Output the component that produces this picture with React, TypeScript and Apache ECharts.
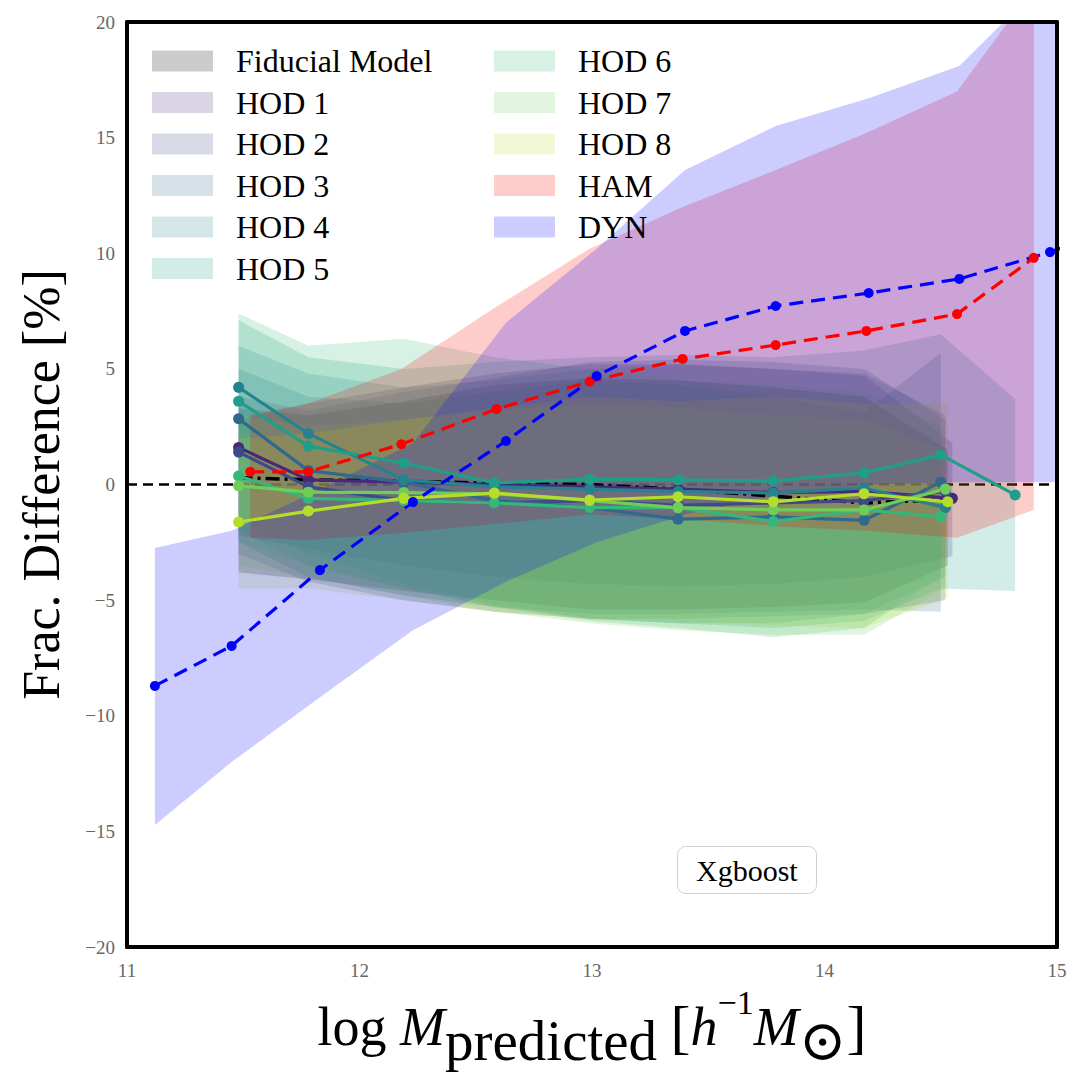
import React, { useEffect, useRef } from "react";
import * as echarts from "echarts";

const FONT = '"Liberation Serif", "DejaVu Serif", serif';

// ---------- axis ranges & ticks ----------
const X_MIN = 11;
const X_MAX = 15;
const X_STEP = 1;
const Y_MIN = -20;
const Y_MAX = 20;
const Y_STEP = 5;
const zeroLevel = 0;

// ---------- Fiducial model ----------
const fidX = [11.48, 11.78, 12.19, 12.58, 12.99, 13.37, 13.78, 14.17, 14.53];
const fidMid = [0.3, 0.2, 0.15, 0.05, 0.0, -0.2, -0.5, -0.8, -0.65];
const fidLo = [-3.8, -4.1, -4.6, -5.0, -5.4, -5.4, -5.3, -5.1, -3.5];
const fidHi = [3.3, 3.0, 3.6, 4.3, 4.6, 4.5, 4.2, 3.8, 1.5];

// ---------- HOD models ----------
const hodNames = ["HOD 1", "HOD 2", "HOD 3", "HOD 4", "HOD 5", "HOD 6", "HOD 7", "HOD 8"];
const hodColors = ["#482878", "#3e4989", "#31688e", "#26828e", "#1f9e89", "#35b779", "#6ece58", "#b5de2b"];
const hodX = [
  [11.48, 11.78, 12.19, 12.58, 12.99, 13.37, 13.78, 14.17, 14.55],
  [11.48, 11.78, 12.19, 12.58, 12.99, 13.37, 13.78, 14.17, 14.52],
  [11.48, 11.78, 12.19, 12.58, 12.99, 13.37, 13.78, 14.17, 14.5],
  [11.48, 11.78, 12.19, 12.58, 12.99, 13.37, 13.78, 14.17, 14.52],
  [11.48, 11.78, 12.19, 12.58, 12.99, 13.37, 13.78, 14.17, 14.5, 14.82],
  [11.48, 11.78, 12.19, 12.58, 12.99, 13.37, 13.78, 14.17, 14.5],
  [11.48, 11.78, 12.19, 12.58, 12.99, 13.37, 13.78, 14.17, 14.52],
  [11.48, 11.78, 12.19, 12.58, 12.99, 13.37, 13.78, 14.17, 14.53],
];
const hodMid = [
  [1.6, 0.2, 0.1, 0.0, -0.1, -0.2, -0.35, -0.3, -0.6],
  [1.4, -0.1, -0.7, -0.8, -0.7, -0.9, -0.8, -0.7, -0.3],
  [2.84, 0.6, 0.1, -0.7, -1.0, -1.5, -1.4, -1.55, 0.1],
  [4.2, 2.2, 0.2, -0.1, -0.2, -0.3, -0.37, -0.15, -1.0],
  [3.6, 1.66, 0.93, 0.07, 0.23, 0.2, 0.15, 0.5, 1.28, -0.45],
  [0.37, -0.6, -0.7, -0.8, -1.0, -1.0, -1.6, -1.1, -1.4],
  [-0.05, -0.33, -0.35, -0.4, -0.7, -1.0, -1.1, -1.1, -0.2],
  [-1.62, -1.15, -0.6, -0.37, -0.67, -0.53, -0.75, -0.4, -0.75],
];
const hodLo = [
  [-2.2, -2.8, -3.5, -4.0, -4.3, -4.4, -4.3, -4.0, -3.1],
  [-3.0, -4.2, -5.0, -5.5, -5.8, -5.8, -5.7, -5.6, -5.0],
  [-2.5, -4.0, -4.8, -5.3, -5.6, -5.6, -5.5, -5.4, -5.5],
  [-2.0, -3.5, -4.5, -5.3, -5.8, -6.0, -6.0, -5.6, -4.0],
  [-1.5, -3.0, -4.3, -5.2, -5.8, -6.0, -6.2, -5.9, -4.5, -4.6],
  [-2.5, -3.5, -4.5, -5.3, -5.9, -6.2, -6.6, -6.2, -4.0],
  [-3.5, -4.0, -4.8, -5.5, -6.0, -6.3, -6.5, -6.5, -4.5],
  [-4.5, -4.5, -5.0, -5.5, -5.8, -5.9, -6.1, -6.2, -4.9],
];
const hodHi = [
  [2.8, 3.5, 4.2, 4.8, 5.2, 5.2, 5.0, 4.7, 1.8],
  [3.8, 3.2, 4.0, 4.6, 5.3, 5.4, 5.3, 5.0, 2.8],
  [5.0, 3.8, 3.5, 4.0, 4.5, 4.3, 3.8, 3.1, 5.7],
  [6.0, 4.8, 4.2, 4.5, 5.0, 5.2, 5.0, 4.8, 3.0],
  [7.1, 5.5, 5.0, 5.3, 5.5, 5.6, 5.5, 5.8, 6.5, 3.7],
  [7.4, 6.0, 6.3, 5.5, 5.0, 4.5, 4.3, 4.0, 2.5],
  [3.0, 2.5, 2.8, 3.2, 3.5, 3.3, 3.0, 2.8, 1.5],
  [2.0, 2.2, 2.8, 3.3, 3.8, 3.6, 3.8, 3.5, 3.5],
];

// ---------- HAM ----------
const hamX = [11.53, 11.78, 12.18, 12.59, 12.99, 13.39, 13.79, 14.18, 14.57, 14.9];
const hamMid = [0.55, 0.55, 1.74, 3.26, 4.45, 5.43, 6.03, 6.64, 7.37, 9.8];
const hamLo = [-2.3, -2.4, -2.1, -1.7, -1.3, -1.5, -1.8, -2.0, -2.3, -1.1];
const hamHi = [3.0, 3.5, 5.0, 7.7, 10.2, 12.0, 13.6, 15.2, 17.0, 21.5];

// ---------- DYN ----------
const dynX = [11.12, 11.45, 11.83, 12.23, 12.63, 13.02, 13.4, 13.79, 14.19, 14.58, 14.97, 15.37];
const dynMid = [-8.71, -6.98, -3.7, -0.76, 1.88, 4.69, 6.64, 7.72, 8.28, 8.89, 10.05, 11.5];
const dynLo = [-14.72, -12.0, -9.2, -6.3, -4.2, -2.5, -1.3, -0.5, 0.0, 0.1, 0.1, 0.5];
const dynHi = [-2.75, -2.0, -0.2, 1.8, 7.0, 10.2, 13.6, 15.5, 16.7, 18.1, 22.0, 25.0];

function rgba(hex: string, a: number) {
  const r = parseInt(hex.slice(1, 3), 16);
  const g = parseInt(hex.slice(3, 5), 16);
  const b = parseInt(hex.slice(5, 7), 16);
  return `rgba(${r},${g},${b},${a})`;
}

function bandSeries(name: string, xs: number[], lo: number[], hi: number[], fill: string) {
  const data = xs.map((x, i) => [x, lo[i], hi[i]]);
  return {
    type: "custom",
    name,
    data,
    clip: true,
    z: 2,
    silent: true,
    encode: { x: 0, y: [1, 2] },
    itemStyle: { color: fill },
    renderItem: (params: any, api: any) => {
      if (params.dataIndex !== 0) return null;
      const top = data.map((d) => api.coord([d[0], d[2]]));
      const bot = data.map((d) => api.coord([d[0], d[1]])).reverse();
      return {
        type: "polygon",
        shape: { points: top.concat(bot) },
        style: { fill, stroke: "none" },
      };
    },
  };
}

function lineSeries(name: string, xs: number[], ys: number[], color: string, opts: any = {}) {
  return {
    type: "line",
    name,
    data: xs.map((x, i) => [x, ys[i]]),
    z: 3,
    silent: true,
    symbol: opts.symbol ?? "circle",
    symbolSize: opts.symbolSize ?? 11,
    showSymbol: opts.symbol !== "none",
    itemStyle: { color },
    lineStyle: { color, width: opts.width ?? 3.2, type: opts.type ?? "solid" },
    clip: true,
  };
}

export default function App() {
  const ref = useRef<HTMLDivElement>(null);

  useEffect(() => {
    if (!ref.current) return;
    const chart = echarts.init(ref.current, undefined, { renderer: "svg" });

    const fidFill = "rgba(0,0,0,0.2)";
    const hamFill = rgba("#ff0000", 0.2);
    const dynFill = rgba("#0000ff", 0.2);

    const bands: any[] = [
      bandSeries("Fiducial Model", fidX, fidLo, fidHi, fidFill),
      ...hodNames.map((n, k) => bandSeries(n, hodX[k], hodLo[k], hodHi[k], rgba(hodColors[k], 0.2))),
      bandSeries("HAM", hamX, hamLo, hamHi, hamFill),
      bandSeries("DYN", dynX, dynLo, dynHi, dynFill),
    ];

    const lines: any[] = [
      lineSeries("Fiducial line", fidX, fidMid, "#000000", { symbol: "none", type: [14, 5, 3, 5], width: 3.5 }),
      ...hodNames.map((n, k) => lineSeries(n + " line", hodX[k], hodMid[k], hodColors[k])),
      lineSeries("HAM line", hamX, hamMid, "#ff0000", { type: [14, 8], width: 3.2, symbolSize: 10 }),
      lineSeries("DYN line", dynX, dynMid, "#0000ff", { type: [14, 8], width: 3.2, symbolSize: 10 }),
    ];

    const zeroSeries = {
      type: "line",
      name: "zero",
      data: [
        [X_MIN, zeroLevel],
        [X_MAX, zeroLevel],
      ],
      z: 1,
      silent: true,
      symbol: "none",
      lineStyle: { color: "#000", width: 2.5, type: [10, 6] },
    };

    const legendNames = ["Fiducial Model", ...hodNames, "HAM", "DYN"];
    const legendColors = [fidFill, ...hodColors.map((c) => rgba(c, 0.2)), hamFill, dynFill];
    const legendItems = legendNames.map((n, i) => ({
      name: n,
      icon: "rect",
      itemStyle: { color: legendColors[i], borderWidth: 0 },
    }));
    const legendCommon = {
      orient: "vertical",
      top: 40,
      itemWidth: 61,
      itemHeight: 21,
      itemGap: 9.5,
      selectedMode: false,
      textStyle: {
        fontFamily: FONT,
        fontSize: 32,
        color: "#000",
        lineHeight: 30.5,
        padding: [0, 0, 0, 18],
      },
    };

    const axisLine = { show: true, onZero: false, lineStyle: { color: "#000", width: 4 } };

    chart.setOption({
      animation: false,
      backgroundColor: "#ffffff",
      grid: { left: 127, right: 28, top: 22, bottom: 129, containLabel: false },
      title: {
        text: "Xgboost",
        left: 677,
        top: 846,
        padding: [9, 19],
        borderColor: "#d0d0d0",
        borderWidth: 1,
        borderRadius: 8,
        backgroundColor: "rgba(255,255,255,0.8)",
        textStyle: { fontFamily: FONT, fontSize: 30, fontWeight: "normal", color: "#000" },
      },
      legend: [
        { ...legendCommon, left: 147, data: legendItems.slice(0, 6) },
        { ...legendCommon, left: 489, data: legendItems.slice(6) },
      ],
      xAxis: [
        {
          type: "value",
          min: X_MIN,
          max: X_MAX,
          interval: X_STEP,
          position: "bottom",
          z: 10,
          axisLine,
          axisTick: { show: false },
          splitLine: { show: false },
          axisLabel: { color: "#666", fontFamily: FONT, fontSize: 19, margin: 14 },
          name: "{n|log }{i|M}{s|predicted}{n| }{b|[}{i|h}{p|−1}{i|M}{s|⊙}{b|]}",
          nameLocation: "middle",
          nameGap: 38,
          nameTextStyle: {
            rich: {
              n: { fontFamily: FONT, fontSize: 54, color: "#000", lineHeight: 84, verticalAlign: "middle" },
              i: { fontFamily: FONT, fontSize: 54, fontStyle: "italic", color: "#000", lineHeight: 84, verticalAlign: "middle" },
              b: { fontFamily: FONT, fontSize: 60, color: "#000", lineHeight: 84, verticalAlign: "middle" },
              s: { fontFamily: FONT, fontSize: 57, color: "#000", lineHeight: 54, verticalAlign: "bottom" },
              p: { fontFamily: FONT, fontSize: 34, color: "#000", lineHeight: 56, verticalAlign: "top" },
            },
          },
        },
        {
          type: "value",
          min: X_MIN,
          max: X_MAX,
          position: "top",
          z: 10,
          axisLine,
          axisTick: { show: false },
          axisLabel: { show: false },
          splitLine: { show: false },
        },
      ],
      yAxis: [
        {
          type: "value",
          min: Y_MIN,
          max: Y_MAX,
          interval: Y_STEP,
          position: "left",
          z: 10,
          axisLine,
          axisTick: { show: false },
          splitLine: { show: false },
          axisLabel: {
            color: "#666",
            fontFamily: FONT,
            fontSize: 19,
            margin: 12,
            formatter: (v: number) => (v < 0 ? "\u2212" + Math.abs(v) : String(v)),
          },
          name: "Frac. Difference [%]",
          nameLocation: "middle",
          nameRotate: 90,
          nameGap: 60,
          nameTextStyle: { fontFamily: FONT, fontSize: 52, color: "#000" },
        },
        {
          type: "value",
          min: Y_MIN,
          max: Y_MAX,
          position: "right",
          z: 10,
          axisLine,
          axisTick: { show: false },
          axisLabel: { show: false },
          splitLine: { show: false },
        },
      ],
      series: [zeroSeries, ...bands, ...lines],
    });

    return () => chart.dispose();
  }, []);

  return (
    <div
      ref={ref}
      style={{ position: "absolute", left: 0, top: 0, width: 1085, height: 1076, background: "#fff" }}
    />
  );
}
